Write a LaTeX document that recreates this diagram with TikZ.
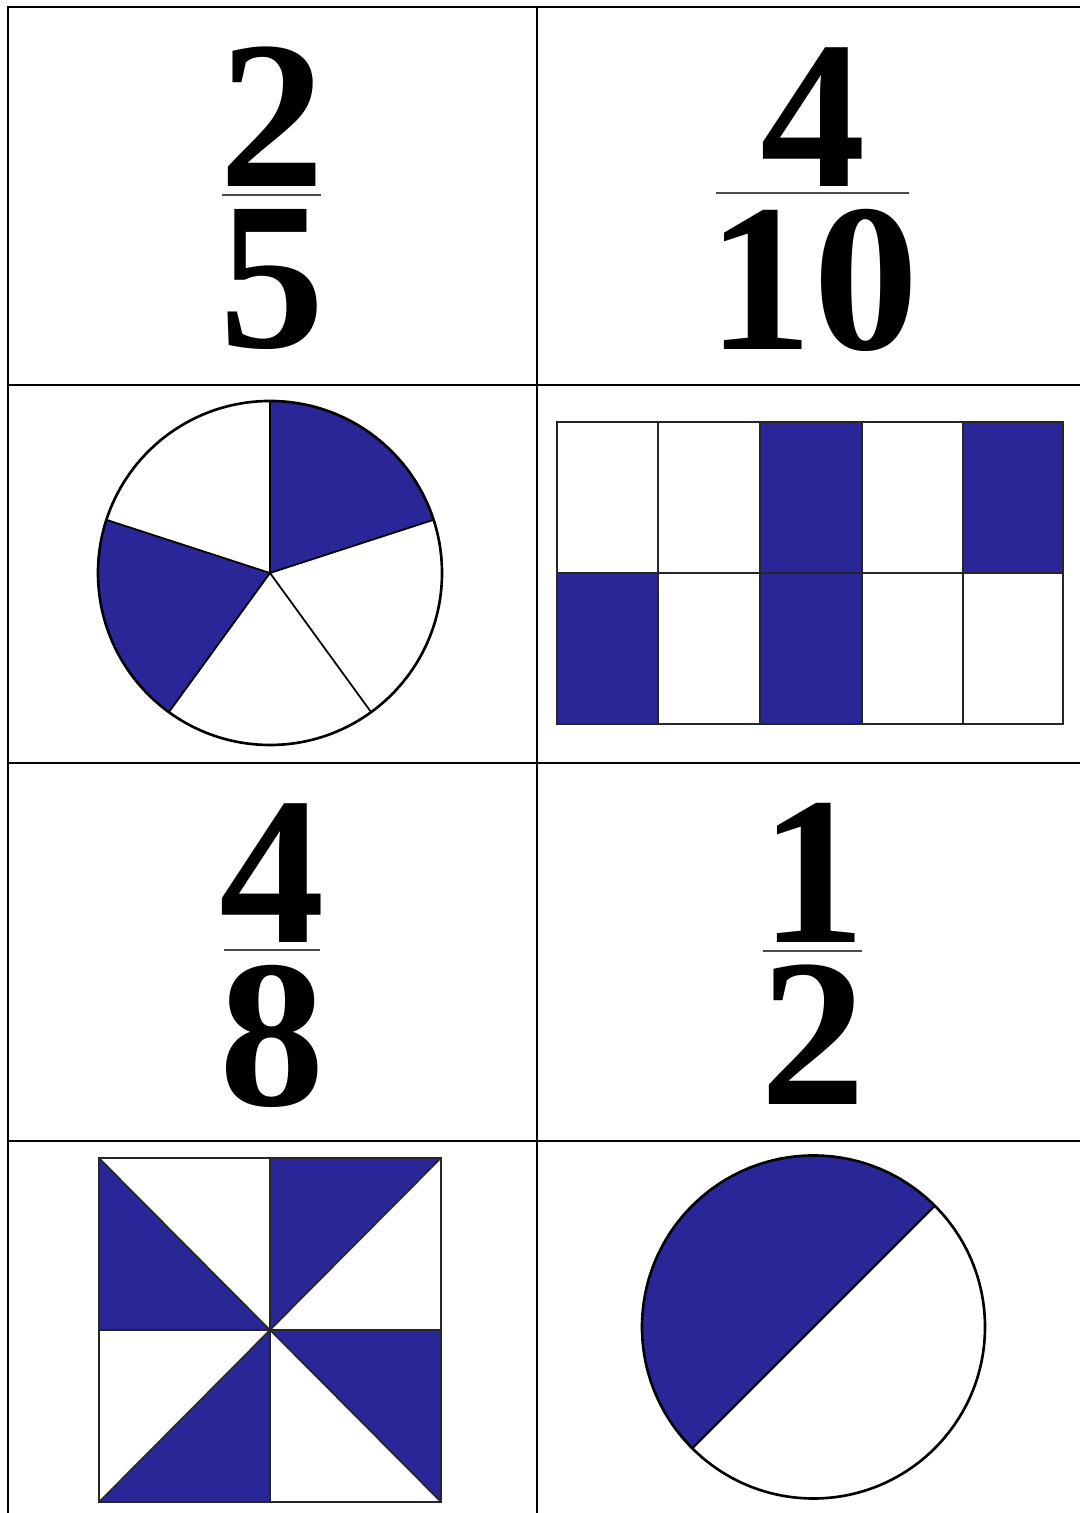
\documentclass[tikz,border=0pt]{standalone}
\usepackage{fontspec}
\setmainfont{Liberation Serif}
\definecolor{fracblue}{RGB}{41,39,151}
\tikzset{
  digit/.style={anchor=base, inner sep=0pt, text height=1.40cm, text depth=0pt,
    font=\fontsize{60}{60}\selectfont\bfseries},
  fracbar/.style={line width=0.5pt, black!70},
  cardline/.style={line width=0.75pt},
  thinline/.style={line width=0.45pt, black!85}
}
\begin{document}
\begin{tikzpicture}
  \useasboundingbox (0,0) rectangle (10.8,15.13);
  % 카드 칸: 왼쪽 세로선 → 위 가로선, 가운데 세로선, 가로 구분선
  \draw[cardline] (0.08,0) -- (0.08,15.06) -- (10.8,15.06);
  \draw[cardline] (5.37,0) -- (5.37,15.06);
  \draw[cardline] (0.08,11.28) -- (10.8,11.28);
  \draw[cardline] (0.08,7.50) -- (10.8,7.50);
  \draw[cardline] (0.08,3.72) -- (10.8,3.72);
  % 분수 2/5
  \node[digit] (numA) at (2.72,13.26) {2};
  \node[digit] (denA) at (2.72,11.65) {5};
  \draw[fracbar] (2.22,13.18) -- (3.21,13.18);
  % 분수 4/10
  \node[digit] (numB) at (8.13,13.26) {4};
  \node[digit] (denB) at (8.13,11.63) {10};
  \draw[fracbar] (7.16,13.20) -- (9.09,13.20);
  % 원 · 다섯 조각 중 둘
  \fill[fracblue] (2.70,9.40) -- ++(18:1.72) arc (18:90:1.72) -- cycle;
  \fill[fracblue] (2.70,9.40) -- ++(162:1.72) arc (162:234:1.72) -- cycle;
  \foreach \a in {90,18,-54,-126,162}
    \draw[line width=0.5pt] (2.70,9.40) -- ++(\a:1.72);
  \draw[cardline] (2.70,9.40) circle (1.72);
  % 직사각형 · 열 칸 중 넷
  \fill[fracblue] (7.60,7.89) rectangle (8.62,10.91);
  \fill[fracblue] (9.63,9.40) rectangle (10.63,10.91);
  \fill[fracblue] (5.57,7.89) rectangle (6.58,9.40);
  \draw[thinline] (5.57,7.89) rectangle (10.63,10.91);
  \foreach \x in {6.58,7.60,8.62,9.63}
    \draw[thinline] (\x,7.89) -- (\x,10.91);
  \draw[thinline] (5.57,9.40) -- (10.63,9.40);
  % 분수 4/8
  \node[digit] (numC) at (2.72,5.70) {4};
  \node[digit] (denC) at (2.72,4.07) {8};
  \draw[fracbar] (2.24,5.63) -- (3.20,5.63);
  % 분수 1/2
  \node[digit] (numD) at (8.13,5.70) {1};
  \node[digit] (denD) at (8.13,4.08) {2};
  \draw[fracbar] (7.63,5.62) -- (8.62,5.62);
  % 정사각형 · 여덟 조각 중 넷 (바람개비)
  \fill[fracblue] (0.99,3.55) -- (2.70,1.83) -- (0.99,1.83) -- cycle;
  \fill[fracblue] (2.70,3.55) -- (4.41,3.55) -- (2.70,1.83) -- cycle;
  \fill[fracblue] (2.70,1.83) -- (4.41,1.83) -- (4.41,0.11) -- cycle;
  \fill[fracblue] (2.70,1.83) -- (2.70,0.11) -- (0.99,0.11) -- cycle;
  \draw[thinline] (0.99,0.11) rectangle (4.41,3.55);
  \draw[thinline] (2.70,0.11) -- (2.70,3.55);
  \draw[thinline] (0.99,1.83) -- (4.41,1.83);
  \draw[thinline] (0.99,3.55) -- (4.41,0.11);
  \draw[thinline] (0.99,0.11) -- (4.41,3.55);
  % 원 · 반
  \fill[fracblue] (8.135,1.86) ++(45:1.715) arc (45:225:1.715) -- cycle;
  \draw[line width=0.6pt] (8.135,1.86) ++(45:1.715) -- ++(225:3.43);
  \draw[cardline] (8.135,1.86) circle (1.715);
\end{tikzpicture}
\end{document}
